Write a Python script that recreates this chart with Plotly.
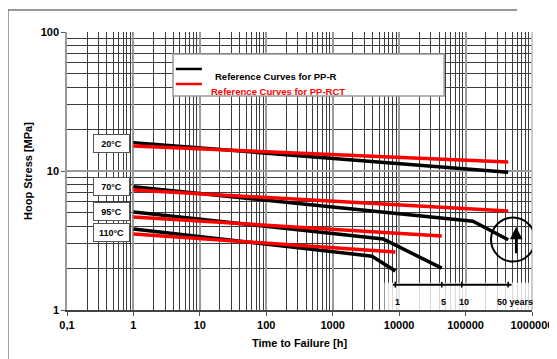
import numpy as np
import plotly.graph_objects as go

# ---------------- data ----------------
temps = ["20°C", "70°C", "95°C", "110°C"]

# PP-R reference curves (black): time [h], stress [MPa]
ppr_t = {
    "20°C": [1, 438000],
    "70°C": [1, 129000, 438000],
    "95°C": [1, 5750, 43800],
    "110°C": [1, 3900, 8760],
}
ppr_s = {
    "20°C": [16.0, 9.8],
    "70°C": [7.7, 4.35, 3.2],
    "95°C": [5.07, 3.24, 2.0],
    "110°C": [3.83, 2.44, 1.91],
}

# PP-RCT reference curves (red)
pprct_t = {
    "20°C": [1, 438000],
    "70°C": [1, 438000],
    "95°C": [1, 43800],
    "110°C": [1, 8760],
}
pprct_s = {
    "20°C": [15.1, 11.6],
    "70°C": [7.3, 5.15],
    "95°C": [4.67, 3.4],
    "110°C": [3.52, 2.61],
}

# temperature label positions (stress level of label)
label_stress = [15.9, 7.73, 5.1, 3.63]

x_tickvals = [0.1, 1, 10, 100, 1000, 10000, 100000, 1000000]
x_ticktext = ["0,1", "1", "10", "100", "1000", "10000", "100000", "1000000"]
y_tickvals = [1, 10, 100]
y_ticktext = ["1", "10", "100"]

years = [1, 5, 10, 50]
year_labels = ["1", "5", "10", "50 years"]
hours_per_year = 8760

FONT = "Liberation Sans, Arial, sans-serif"

fig = go.Figure()

for T in temps:
    fig.add_trace(go.Scatter(x=ppr_t[T], y=ppr_s[T], mode="lines",
                             line=dict(color="black", width=3.5),
                             showlegend=False, name="Reference Curves for PP-R"))
for T in temps:
    fig.add_trace(go.Scatter(x=pprct_t[T], y=pprct_s[T], mode="lines",
                             line=dict(color="#ff0000", width=3.5),
                             showlegend=False, name="Reference Curves for PP-RCT"))

minor_x = [m * 10.0 ** e for e in range(-1, 6) for m in range(2, 10)]
minor_y = [m * 10.0 ** e for e in range(0, 2) for m in range(2, 10)]

fig.update_xaxes(type="log", range=[-1, 6], tickmode="array", automargin=False,
                 tickvals=x_tickvals, ticktext=x_ticktext,
                 showgrid=True, gridcolor="#9a9a9a", gridwidth=1.5,
                 ticks="outside", ticklen=4, tickcolor="#555",
                 showline=True, linecolor="#444", linewidth=1.5,
                 tickfont=dict(family=FONT, size=11, color="black", weight="bold"),
                 title=dict(text="Time to Failure [h]", standoff=9,
                            font=dict(family=FONT, size=11, color="black", weight="bold")),
                 minor=dict(tickmode="array", tickvals=minor_x, showgrid=True,
                            gridcolor="#3c3c3c", gridwidth=1, ticks=""),
                 zeroline=False)
fig.update_yaxes(type="log", range=[0, 2], tickmode="array", automargin=False,
                 tickvals=y_tickvals, ticktext=y_ticktext,
                 showgrid=True, gridcolor="#9a9a9a", gridwidth=1.5,
                 ticks="outside", ticklen=4, tickcolor="#555",
                 showline=True, linecolor="#999", linewidth=1.5,
                 tickfont=dict(family=FONT, size=11, color="black", weight="bold"),
                 title=dict(text="Hoop Stress [MPa]", standoff=6,
                            font=dict(family=FONT, size=11, color="black", weight="bold")),
                 minor=dict(tickmode="array", tickvals=minor_y, showgrid=True,
                            gridcolor="#3c3c3c", gridwidth=1, ticks=""),
                 zeroline=False)

shapes = []
# outer frame (top and left)
shapes.append(dict(type="line", xref="paper", yref="paper", x0=-0.127, x1=0.968,
                   y0=1.079, y1=1.079, line=dict(color="#777", width=1.5)))
shapes.append(dict(type="line", xref="paper", yref="paper", x0=-0.127, x1=-0.127,
                   y0=1.079, y1=-0.2, line=dict(color="#777", width=1.5)))
# right edge line
shapes.append(dict(type="line", xref="paper", yref="paper", x0=1, x1=1,
                   y0=0, y1=1, line=dict(color="#bbb", width=1.5)))

# legend box
shapes.append(dict(type="rect", xref="paper", yref="paper", x0=0.228, x1=0.811,
                   y0=0.770, y1=0.921, fillcolor="white",
                   line=dict(color="#999", width=1.5), layer="above"))
shapes.append(dict(type="line", xref="paper", yref="paper", x0=0.234, x1=0.290,
                   y0=0.867, y1=0.867, line=dict(color="black", width=2.5), layer="above"))
shapes.append(dict(type="line", xref="paper", yref="paper", x0=0.234, x1=0.290,
                   y0=0.813, y1=0.813, line=dict(color="#ff0000", width=2.5), layer="above"))

# white box for year scale
shapes.append(dict(type="rect", xref="x", yref="y", x0=6000, x1=1000000,
                   y0=1.0, y1=1.57, fillcolor="white", opacity=0.8,
                   line=dict(width=0), layer="between"))
# year scale bar
yr_hours = [y * hours_per_year for y in years]
shapes.append(dict(type="line", xref="x", yref="y", x0=yr_hours[0] * 0.92,
                   x1=yr_hours[-1] * 1.12, y0=1.52, y1=1.52,
                   line=dict(color="black", width=2)))
for h in yr_hours:
    shapes.append(dict(type="line", xref="x", yref="y", x0=h, x1=h,
                       y0=1.45, y1=1.60, line=dict(color="black", width=1.5)))

# highlight circle around 50-year point (data coordinates)
shapes.append(dict(type="circle", xref="x", yref="y",
                   x0=241500, x1=1110000, y0=2.23, y1=4.63,
                   line=dict(color="black", width=2)))

annotations = []
for T, s in zip(temps, label_stress):
    annotations.append(dict(x=0, y=np.log10(s), xref="x", yref="y", text=T,
                            showarrow=False, xanchor="right", xshift=-3,
                            width=33, height=15, bgcolor="white",
                            bordercolor="#555", borderwidth=1, borderpad=1,
                            font=dict(family=FONT, size=9, color="black", weight="bold")))
# legend texts
annotations.append(dict(x=0.314, y=0.867, xref="paper", yref="paper",
                        text="Reference Curves for PP-R", showarrow=False, xanchor="left",
                        font=dict(family=FONT, size=9.5, color="black", weight="bold")))
annotations.append(dict(x=0.305, y=0.813, xref="paper", yref="paper",
                        text="Reference Curves for PP-RCT", showarrow=False, xanchor="left",
                        font=dict(family=FONT, size=9.5, color="#ff0000", weight="bold")))
# year labels
for h, lab in zip(yr_hours, year_labels):
    annotations.append(dict(x=np.log10(h), y=np.log10(1.14), xref="x", yref="y",
                            text=lab, showarrow=False,
                            xshift=(7 if lab.endswith("years") else 2),
                            font=dict(family=FONT, size=9, color="black", weight="bold")))
# arrow
annotations.append(dict(x=np.log10(yr_hours[-1]), y=np.log10(3.2), xref="x", yref="y",
                        text="", showarrow=True, xshift=8, yshift=13,
                        ax=0, ay=28, arrowhead=2, arrowsize=1, arrowwidth=2.5,
                        arrowcolor="black"))

# the page body adds an 8px offset, so margins are reduced by 8px on top/left
fig.update_layout(width=557, height=359, margin=dict(l=59, r=33, t=24, b=57),
                  paper_bgcolor="white", plot_bgcolor="white",
                  shapes=shapes, annotations=annotations, showlegend=False)

fig.write_html("out.html")
